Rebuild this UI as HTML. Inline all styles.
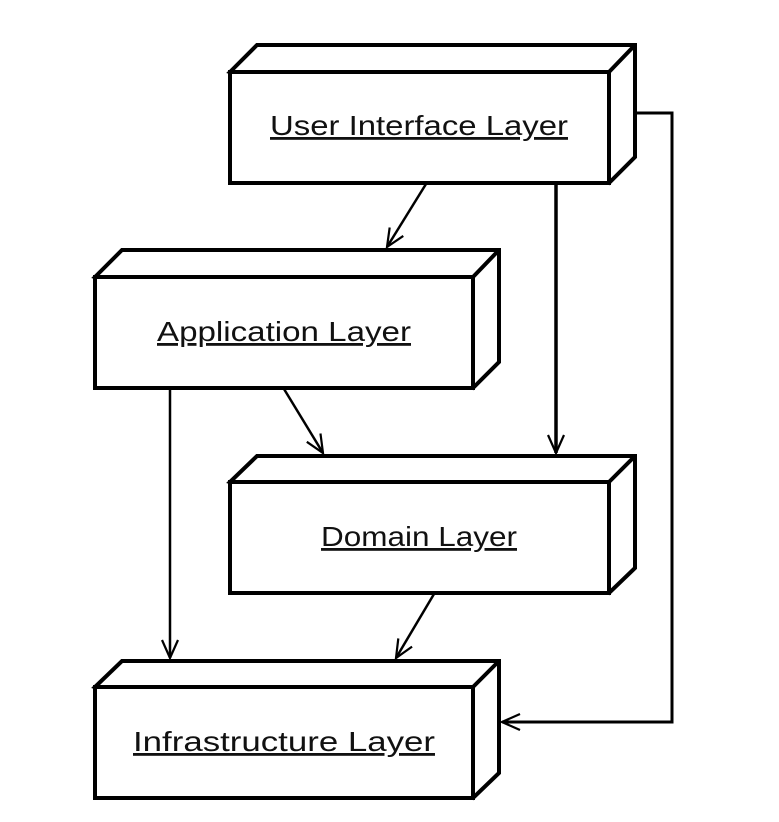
<!DOCTYPE html>
<html><head><style>
html,body{margin:0;padding:0;background:#fff;}
svg{display:block;}
text{font-family:"Liberation Sans",sans-serif;font-size:28px;fill:#111;text-decoration:underline;}
</style></head><body>
<svg width="779" height="822" viewBox="0 0 779 822" xmlns="http://www.w3.org/2000/svg">
<defs>
<marker id="a" markerWidth="24" markerHeight="24" refX="20" refY="10" orient="auto" markerUnits="userSpaceOnUse">
<path d="M2,2 L20,10 L2,18" fill="none" stroke="#000" stroke-width="2.2"/>
</marker>
</defs>
<g fill="#fff" stroke="#000" stroke-width="4" stroke-linejoin="miter">
<path d="M230,72 L257,45 L635,45 L635,157 L609,183 Z"/>
<rect x="230" y="72" width="379" height="111"/>
<path d="M609,72 L635,45"/>
<path d="M95,277 L122,250 L499,250 L499,362 L473,388 Z"/>
<rect x="95" y="277" width="378" height="111"/>
<path d="M473,277 L499,250"/>
<path d="M230,482 L257,456 L635,456 L635,568 L609,593 Z"/>
<rect x="230" y="482" width="379" height="111"/>
<path d="M609,482 L635,456"/>
<path d="M95,687 L122,661 L499,661 L499,773 L473,798 Z"/>
<rect x="95" y="687" width="378" height="111"/>
<path d="M473,687 L499,661"/>
</g>
<g fill="none" stroke="#000" stroke-width="2.5">
<path d="M426,184 L387,247" marker-end="url(#a)"/>
<path d="M556,184 L556,453" stroke-width="3.5" marker-end="url(#a)"/>
<path d="M636,113 L672,113 L672,722 L502,722" stroke-width="3" marker-end="url(#a)"/>
<path d="M284,389 L323,453" marker-end="url(#a)"/>
<path d="M170,389 L170,658" marker-end="url(#a)"/>
<path d="M434,594 L396,658" marker-end="url(#a)"/>
</g>
<text x="270" y="135" textLength="298" lengthAdjust="spacingAndGlyphs">User Interface Layer</text>
<text x="157" y="341" textLength="254" lengthAdjust="spacingAndGlyphs">Application Layer</text>
<text x="321" y="546" textLength="196" lengthAdjust="spacingAndGlyphs">Domain Layer</text>
<text x="133" y="751" textLength="302" lengthAdjust="spacingAndGlyphs">Infrastructure Layer</text>
</svg>
</body></html>
